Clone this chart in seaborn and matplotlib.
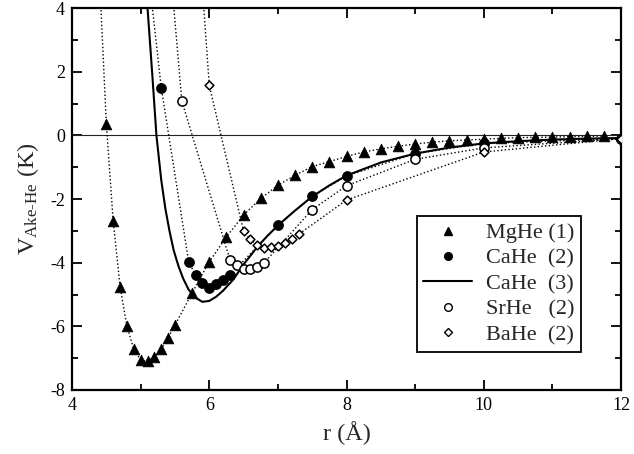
import numpy as np
import pandas as pd
import seaborn as sns
import matplotlib.pyplot as plt
from matplotlib.ticker import MultipleLocator
from matplotlib.lines import Line2D

# MgHe (1)
r_mg = [4.4, 4.5, 4.6, 4.7, 4.8, 4.9, 5.0, 5.1, 5.2, 5.3, 5.4, 5.5, 5.75, 6.0, 6.25,
        6.5, 6.75, 7.0, 7.25, 7.5, 7.75, 8.0, 8.25, 8.5, 8.75, 9.0, 9.25, 9.5, 9.75,
        10.0, 10.25, 10.5, 10.75, 11.0, 11.25, 11.5, 11.75]
v_mg = [5.0, 0.36, -2.7, -4.75, -6.0, -6.72, -7.05, -7.1, -6.96, -6.71, -6.36, -5.96,
        -4.95, -3.97, -3.19, -2.5, -1.98, -1.57, -1.25, -0.98, -0.82, -0.66, -0.52,
        -0.42, -0.34, -0.27, -0.21, -0.17, -0.14, -0.12, -0.09, -0.07, -0.06, -0.05,
        -0.04, -0.03, -0.02]

# CaHe (2)
r_ca = [5.1, 5.3, 5.7, 5.8, 5.9, 6.0, 6.1, 6.2, 6.3, 7.0, 7.5, 8.0, 9.0, 10.0, 12.0]
v_ca = [5.4, 1.5, -3.97, -4.39, -4.63, -4.81, -4.67, -4.55, -4.39, -2.82, -1.91,
        -1.27, -0.57, -0.25, -0.1]

# CaHe (3)
r_ca3 = [5.05, 5.10, 5.17, 5.23, 5.30, 5.36, 5.42, 5.48, 5.55, 5.62, 5.70, 5.80,
         5.90, 6.00, 6.10, 6.20, 6.35, 6.50, 6.60, 6.70, 6.85, 7.00, 7.25, 7.50,
         7.75, 8.00, 8.50, 9.00, 9.50, 10.0, 10.5, 11.0, 11.5, 12.0]
v_ca3 = [5.0, 4.0, 1.9, 0.0, -1.4, -2.3, -3.0, -3.6, -4.1, -4.5, -4.85, -5.1,
         -5.23, -5.2, -5.07, -4.88, -4.53, -4.05, -3.78, -3.5, -3.15, -2.83, -2.36,
         -1.92, -1.57, -1.26, -0.85, -0.57, -0.38, -0.25, -0.18, -0.13, -0.1, -0.08]

# SrHe (2)
r_sr = [5.4, 5.6, 6.3, 6.4, 6.5, 6.6, 6.7, 6.8, 7.5, 8.0, 9.0, 10.0, 12.0]
v_sr = [6.1, 1.08, -3.9, -4.08, -4.21, -4.19, -4.13, -4.0, -2.33, -1.58, -0.75,
        -0.39, -0.1]

# BaHe (2)
r_ba = [5.9, 6.0, 6.5, 6.6, 6.7, 6.8, 6.9, 7.0, 7.1, 7.2, 7.3, 8.0, 10.0, 12.0]
v_ba = [4.6, 1.57, -3.01, -3.27, -3.45, -3.53, -3.51, -3.46, -3.37, -3.25, -3.11,
        -2.03, -0.52, -0.1]

sns.set_style("ticks")
plt.rcParams['font.family'] = ['Liberation Serif', 'DejaVu Serif']
plt.rcParams['mathtext.fontset'] = 'custom'
plt.rcParams['mathtext.rm'] = 'Liberation Serif'
plt.rcParams['mathtext.it'] = 'Liberation Serif:italic'
plt.rcParams['axes.unicode_minus'] = False

fig = plt.figure(figsize=(6.34, 4.54), dpi=100)
ax = fig.add_axes([0.1136, 0.141, 0.866, 0.841])

mg = pd.DataFrame({'r': r_mg, 'V': v_mg})
ca = pd.DataFrame({'r': r_ca, 'V': v_ca})
ca3 = pd.DataFrame({'r': r_ca3, 'V': v_ca3})
sr = pd.DataFrame({'r': r_sr, 'V': v_sr})
ba = pd.DataFrame({'r': r_ba, 'V': v_ba})

ax.axhline(0, color='#222222', lw=0.8, zorder=1)

for d in [mg, ca, sr, ba]:
    sns.lineplot(data=d, x='r', y='V', sort=False, estimator=None, color='black',
                 lw=1.0, linestyle=':', ax=ax, zorder=2)
sns.lineplot(data=ca3, x='r', y='V', sort=False, estimator=None, color='black',
             lw=1.5, ax=ax, zorder=3)

sns.scatterplot(data=mg, x='r', y='V', marker='^', s=60, color='black',
                edgecolor='black', linewidth=0.5, ax=ax, zorder=4)
sns.scatterplot(data=ca, x='r', y='V', marker='o', s=52, color='black',
                edgecolor='black', linewidth=0.5, ax=ax, zorder=4)
sns.scatterplot(data=sr, x='r', y='V', marker='o', s=44, facecolor='white',
                edgecolor='black', linewidth=1.1, ax=ax, zorder=4)
sns.scatterplot(data=ba, x='r', y='V', marker='D', s=20, facecolor='white',
                edgecolor='black', linewidth=1.1, ax=ax, zorder=4)

ax.set_xlim(4, 12)
ax.set_ylim(-8, 4)
ax.xaxis.set_major_locator(MultipleLocator(2))
ax.xaxis.set_minor_locator(MultipleLocator(1))
ax.yaxis.set_major_locator(MultipleLocator(2))
ax.yaxis.set_minor_locator(MultipleLocator(1))
ax.tick_params(which='both', direction='in', top=True, right=True, width=1.3,
               labelsize=13, color='black', labelcolor='black')
ax.tick_params(which='major', length=7, pad=5)
ax.tick_params(which='minor', length=4)
for lab in ax.get_xticklabels() + ax.get_yticklabels():
    lab.set_family(['Liberation Serif', 'DejaVu Serif'])
for s in ax.spines.values():
    s.set_linewidth(1.6)
    s.set_color('black')

ax.set_xlabel('r (Å)', fontsize=17.5, labelpad=5)
ax.set_ylabel(r'V$_{\text{Ake-He}}$ (K)', fontsize=17.5)
ax.yaxis.set_label_coords(-0.056, 0.5)

handles = [
    Line2D([], [], marker='^', ls='none', color='black', markersize=5.5),
    Line2D([], [], marker='o', ls='none', color='black', markersize=5.5),
    Line2D([], [], color='black', lw=1.5),
    Line2D([], [], marker='o', ls='none', markerfacecolor='white',
           markeredgecolor='black', markersize=5.5, markeredgewidth=1.0),
    Line2D([], [], marker='D', ls='none', markerfacecolor='white',
           markeredgecolor='black', markersize=3.8, markeredgewidth=1.0),
]
labels = ['MgHe (1)', 'CaHe  (2)', 'CaHe  (3)', 'SrHe   (2)', 'BaHe  (2)']
leg = ax.legend(handles, labels, loc='lower left', bbox_to_anchor=(0.628, 0.10),
                fontsize=16, frameon=True, fancybox=False, edgecolor='black',
                framealpha=1, borderpad=0.3, labelspacing=0.22, handlelength=2.2,
                handletextpad=0.6, borderaxespad=0)
leg.get_frame().set_linewidth(1.3)

plt.savefig('out.png', dpi=100)
